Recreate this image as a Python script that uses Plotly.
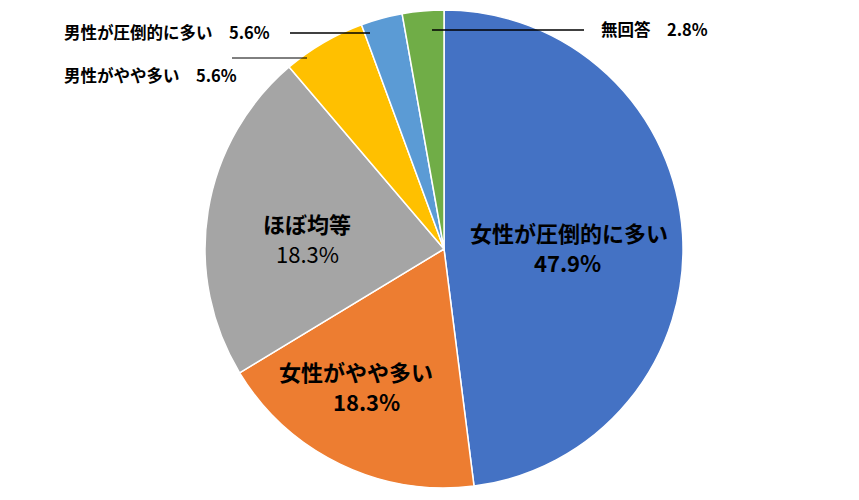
import plotly.graph_objects as go

# Slice order (clockwise from 12 o'clock)
categories = ["女性が圧倒的に多い", "女性がやや多い", "ほぼ均等", "男性がやや多い", "男性が圧倒的に多い", "無回答"]
# slice sizes
values = [47.9, 18.3, 22.4, 5.6, 2.8, 2.8]
# percentage texts as printed on the chart
pct_labels = ["47.9%", "18.3%", "18.3%", "5.6%", "5.6%", "2.8%"]
colors = ["#4472C4", "#ED7D31", "#A5A5A5", "#FFC000", "#5B9BD5", "#70AD47"]

W, H = 859, 500
FONT = "Noto Sans CJK JP, Noto Sans, sans-serif"


def px(x):
    return x / W


def py(y):
    return 1 - y / H


fig = go.Figure(go.Pie(
    labels=categories,
    values=values,
    sort=False,
    direction="clockwise",
    rotation=0,
    marker=dict(colors=colors, line=dict(color="white", width=1.5)),
    textinfo="none",
    hoverinfo="label+percent",
    showlegend=False,
    domain=dict(x=[0.2169, 0.8169], y=[0.024, 0.98]),
))

ann = []


def add(text, x, y, size, xanchor="center"):
    ann.append(dict(text=text, x=px(x), y=py(y), xref="paper", yref="paper",
                    showarrow=False, xanchor=xanchor, yanchor="middle", align="center",
                    font=dict(family=FONT, size=size, color="black")))


# inside labels
add(f"<b>{categories[0]}</b>", 569, 232, 22)
add(f"<b>{pct_labels[0]}</b>", 567, 262, 22)
add(f"<b>{categories[2]}</b>", 307, 223, 22)
add(pct_labels[2], 307, 253, 22)
add(f"<b>{categories[1]}</b>", 356, 371, 22)
add(f"<b>{pct_labels[1]}</b>", 366, 401, 22)

# outside labels
add(f"<b>{categories[4]}　{pct_labels[4]}</b>", 62, 32, 16.5, xanchor="left")
add(f"<b>{categories[3]}　{pct_labels[3]}</b>", 62, 75, 16.5, xanchor="left")
add(f"<b>{categories[5]}　{pct_labels[5]}</b>", 599, 29, 16.5, xanchor="left")

shapes = [
    dict(type="line", xref="paper", yref="paper", x0=px(290), x1=px(370), y0=py(33), y1=py(33),
         line=dict(color="black", width=1.6)),
    dict(type="line", xref="paper", yref="paper", x0=px(232), x1=px(307), y0=py(58), y1=py(58),
         line=dict(color="black", width=1)),
    dict(type="line", xref="paper", yref="paper", x0=px(432), x1=px(584), y0=py(30), y1=py(30),
         line=dict(color="black", width=1.6)),
]

fig.update_layout(
    width=W, height=H,
    margin=dict(l=0, r=0, t=0, b=0),
    paper_bgcolor="white",
    plot_bgcolor="white",
    annotations=ann,
    shapes=shapes,
)

fig.write_html("out.html")
